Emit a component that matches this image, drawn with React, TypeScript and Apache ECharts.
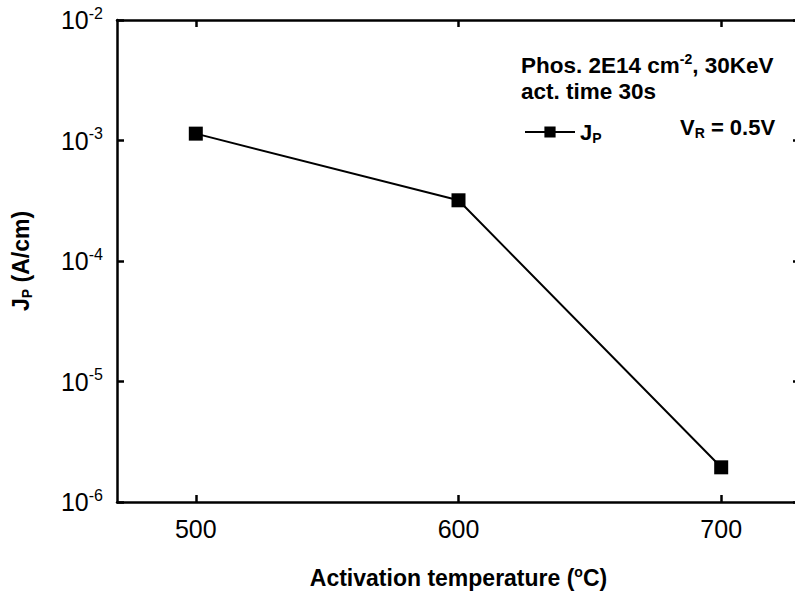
import React, { useEffect, useRef } from "react";
import * as echarts from "echarts";

const temperatures = [500, 600, 700];
const currentDensity = [1.14e-3, 3.19e-4, 1.94e-6];
const xTickValues = [500, 600, 700];
const yTickValues = [1e-6, 1e-5, 1e-4, 1e-3, 1e-2];

const FONT = "Liberation Sans, Arial, sans-serif";

export default function App() {
  const ref = useRef<HTMLDivElement>(null);
  useEffect(() => {
    if (!ref.current) return;
    const chart = echarts.init(ref.current, undefined, { renderer: "svg" });
    const axisLine = { show: true, lineStyle: { color: "#000", width: 2.5 } };
    const tick = { show: true, inside: true, length: 7, lineStyle: { color: "#000", width: 2.5 } };
    const supLabel = (v: number) => {
      const e = Math.round(Math.log10(v));
      return `{b|10}{s|${e}}`;
    };
    const labelRich = {
      b: { fontSize: 25, fontFamily: FONT, color: "#000", lineHeight: 30 },
      s: { fontSize: 16, fontFamily: FONT, color: "#000", verticalAlign: "top" as const, lineHeight: 16 },
    };
    const boldRich = (sub: "top" | "bottom", size = 22.5) => ({
      a: { fontSize: size, fontWeight: "bold", fontFamily: FONT, color: "#000", lineHeight: 26 },
      s: { fontSize: 14, fontWeight: "bold", fontFamily: FONT, color: "#000", verticalAlign: sub, lineHeight: 14 },
    });
    chart.setOption({
      animation: false,
      backgroundColor: "#fff",
      grid: { left: 117, right: 0, top: 20, bottom: 93, containLabel: false },
      xAxis: [
        {
          type: "value",
          min: 470,
          max: 730,
          position: "bottom",
          axisLine,
          axisTick: { ...tick, customValues: xTickValues },
          axisLabel: {
            customValues: xTickValues,
            fontSize: 25,
            fontFamily: FONT,
            color: "#000",
            margin: 14,
          },
          splitLine: { show: false },
          name: "{a|Activation temperature (}{s|o}{a|C)}",
          nameLocation: "middle",
          nameGap: 63,
          nameTextStyle: { rich: boldRich("top", 23) },
        },
        {
          type: "value",
          min: 470,
          max: 730,
          position: "top",
          axisLine,
          axisTick: { ...tick, customValues: xTickValues },
          axisLabel: { show: false },
          splitLine: { show: false },
        },
      ],
      yAxis: [
        {
          type: "log",
          logBase: 10,
          min: 1e-6,
          max: 1e-2,
          position: "left",
          axisLine,
          axisTick: { ...tick, customValues: yTickValues },
          minorTick: { show: false },
          axisLabel: {
            customValues: yTickValues,
            formatter: supLabel,
            rich: labelRich,
            margin: 14,
          },
          splitLine: { show: false },
          name: "{a|J}{s|P}{a| (A/cm)}",
          nameLocation: "middle",
          nameGap: 83,
          nameRotate: 90,
          nameTextStyle: { rich: boldRich("bottom", 23) },
        },
        {
          type: "log",
          logBase: 10,
          min: 1e-6,
          max: 1e-2,
          position: "right",
          axisLine,
          axisTick: { ...tick, customValues: yTickValues },
          axisLabel: { show: false },
          splitLine: { show: false },
        },
      ],
      legend: {
        left: 519,
        top: 116,
        itemWidth: 50,
        itemHeight: 14,
        itemGap: 0,
        formatter: "{a|J}{s|P}",
        textStyle: { rich: boldRich("bottom", 22) },
        data: ["JP"],
      },
      graphic: [
        {
          type: "text",
          left: 521,
          top: 52,
          style: {
            text: "{a|Phos. 2E14 cm}{s|-2}{a|, 30KeV}",
            rich: {
              a: { fontSize: 22.5, fontWeight: "bold", fontFamily: FONT, fill: "#000", lineHeight: 26 },
              s: { fontSize: 14, fontWeight: "bold", fontFamily: FONT, fill: "#000", verticalAlign: "top", lineHeight: 14 },
            },
          },
        },
        {
          type: "text",
          left: 521,
          top: 80,
          style: {
            text: "act. time 30s",
            font: `bold 22.5px ${FONT}`,
            fill: "#000",
          },
        },
        {
          type: "text",
          left: 680,
          top: 116,
          style: {
            text: "{a|V}{s|R}{a| = 0.5V}",
            rich: {
              a: { fontSize: 22, fontWeight: "bold", fontFamily: FONT, fill: "#000", lineHeight: 26 },
              s: { fontSize: 14, fontWeight: "bold", fontFamily: FONT, fill: "#000", verticalAlign: "bottom", lineHeight: 14 },
            },
          },
        },
      ],
      series: [
        {
          name: "JP",
          type: "line",
          xAxisIndex: 0,
          yAxisIndex: 0,
          data: temperatures.map((t, i) => [t, currentDensity[i]]),
          symbol: "rect",
          symbolSize: 14,
          lineStyle: { color: "#000", width: 2 },
          itemStyle: { color: "#000" },
        },
      ],
    });
    return () => chart.dispose();
  }, []);
  return (
    <div
      style={{
        position: "fixed",
        left: 0,
        top: 0,
        width: 795,
        height: 595,
        overflow: "hidden",
      }}
    >
      <div ref={ref} style={{ width: 800, height: 595 }} />
    </div>
  );
}
